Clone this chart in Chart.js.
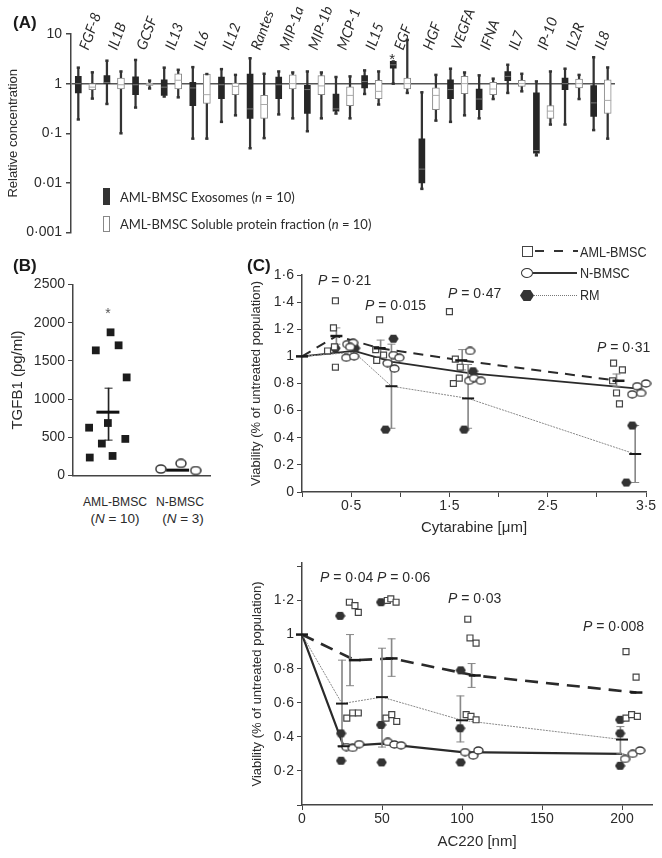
<!DOCTYPE html>
<html>
<head>
<meta charset="utf-8">
<script src="https://cdn.jsdelivr.net/npm/chart.js@4.4.1/dist/chart.umd.min.js"></script>
<style>
  body { margin:0; width:662px; height:858px; position:relative; overflow:hidden; background:#fff;
         font-family:"Liberation Sans", Arial, sans-serif; color:#2b2b2b; }
  canvas { position:absolute; }
  .t { position:absolute; white-space:nowrap; line-height:1; font-size:14px; }
  .c { transform:translateX(-50%); }
  .cn { transform:translateX(-50%) scaleX(0.9); }
  .n { display:inline-block; transform:scaleX(0.9); transform-origin:left center; }
  .panel { font-weight:bold; font-size:17px; color:#1a1a1a; }
  .lg { font-family:Lato, "Open Sans", sans-serif; font-size:13px; }
  .shape { position:absolute; box-sizing:border-box; }
</style>
</head>
<body>
<canvas id="chartA" width="662" height="245" style="left:0;top:0"></canvas>
<canvas id="chartB" width="225" height="220" style="left:0;top:270px"></canvas>
<canvas id="chartC1" width="422" height="277" style="left:240px;top:262px"></canvas>
<canvas id="chartC2" width="422" height="303" style="left:240px;top:550px"></canvas>

<div class="t panel" style="left:13px;top:14px">(A)</div>
<div class="t panel" style="left:13px;top:257px">(B)</div>
<div class="t panel" style="left:247px;top:257px">(C)</div>

<!-- legend A -->
<div class="shape" style="left:103px;top:188px;width:7px;height:17px;background:#333"></div>
<div class="t lg" style="left:120px;top:191px">AML-BMSC Exosomes (<i>n</i> = 10)</div>
<div class="shape" style="left:103px;top:216px;width:7px;height:16px;border:1px solid #888;background:#fff"></div>
<div class="t lg" style="left:120px;top:218px">AML-BMSC Soluble protein fraction (<i>n</i> = 10)</div>

<!-- panel B category labels -->
<div class="t cn" style="left:115px;top:495px;font-size:13.5px">AML-BMSC</div>
<div class="t c" style="left:115px;top:512px;font-size:13.5px">(<i>N</i> = 10)</div>
<div class="t cn" style="left:180px;top:495px;font-size:13.5px">N-BMSC</div>
<div class="t c" style="left:183px;top:512px;font-size:13.5px">(<i>N</i> = 3)</div>
<div class="t c" style="left:108px;top:306px;color:#555">*</div>

<!-- legend C -->
<div class="shape" style="left:522px;top:246px;width:11px;height:11px;border:1.5px solid #444"></div>
<div class="shape" style="left:535px;top:250px;width:43px;height:2px;background:repeating-linear-gradient(90deg,#333 0 9px,transparent 9px 19px)"></div>
<div class="t n" style="left:580px;top:245px">AML-BMSC</div>
<div class="shape" style="left:521px;top:268px;width:12px;height:10px;border:1.5px solid #333;border-radius:50%"></div>
<div class="shape" style="left:533px;top:272px;width:44px;height:1.5px;background:#333"></div>
<div class="t n" style="left:580px;top:266px">N-BMSC</div>
<div class="shape" style="left:520px;top:290px;width:14px;height:11px;background:#333;clip-path:polygon(25% 0,75% 0,100% 50%,75% 100%,25% 100%,0 50%)"></div>
<div class="shape" style="left:534px;top:295px;width:43px;height:1px;background:repeating-linear-gradient(90deg,#777 0 1px,transparent 1px 2px)"></div>
<div class="t n" style="left:580px;top:288px">RM</div>

<!-- P values -->
<div class="t" style="left:318px;top:273px"><i>P</i> = 0·21</div>
<div class="t" style="left:365px;top:298px"><i>P</i> = 0·015</div>
<div class="t" style="left:448px;top:286px"><i>P</i> = 0·47</div>
<div class="t" style="left:597px;top:340px"><i>P</i> = 0·31</div>
<div class="t" style="left:320px;top:570px"><i>P</i> = 0·04</div>
<div class="t" style="left:377px;top:570px"><i>P</i> = 0·06</div>
<div class="t" style="left:448px;top:591px"><i>P</i> = 0·03</div>
<div class="t" style="left:583px;top:619px"><i>P</i> = 0·008</div>

<script>
// ---------- panel A: cytokine box plots (relative concentration) ----------
const cytokines = ['FGF-8','IL1B','GCSF','IL13','IL6','IL12','Rantes','MIP-1a','MIP-1b','MCP-1',
                   'IL15','EGF','HGF','VEGFA','IFNA','IL7','IP-10','IL2R','IL8'];
// [min, q1, median, q3, max]
const exoBoxes = [
  [0.19, 0.65, 1.0, 1.4, 2.1],
  [0.39, 1.0, 1.05, 1.45, 2.9],
  [0.33, 0.6, 0.95, 1.38, 3.0],
  [0.55, 0.58, 0.85, 1.2, 2.1],
  [0.078, 0.36, 0.82, 1.06, 2.15],
  [0.17, 0.5, 0.95, 1.36, 1.96],
  [0.05, 0.2, 0.31, 1.56, 3.25],
  [0.24, 0.5, 0.95, 1.36, 1.76],
  [0.11, 0.25, 0.76, 0.93, 1.76],
  [0.25, 0.28, 0.31, 0.62, 1.36],
  [0.62, 0.82, 1.1, 1.45, 1.85],
  [1.0, 2.06, 2.4, 2.8, 2.8],
  [0.0076, 0.01, 0.019, 0.077, 0.67],
  [0.17, 0.5, 0.76, 1.2, 2.0],
  [0.2, 0.3, 0.49, 0.78, 1.47],
  [0.65, 1.15, 1.4, 1.76, 2.4],
  [0.036, 0.04, 0.045, 0.65, 1.11],
  [0.15, 0.76, 1.0, 1.3, 2.0],
  [0.116, 0.22, 0.41, 0.91, 3.4]
];
const solBoxes = [
  [0.5, 0.76, 0.85, 1.0, 1.69],
  [0.1, 0.78, 0.95, 1.3, 1.76],
  [0.8, 0.92, 0.95, 1.03, 1.15],
  [0.53, 0.78, 1.17, 1.58, 1.9],
  [0.078, 0.4, 0.6, 1.56, 1.56],
  [0.23, 0.6, 0.88, 1.03, 1.5],
  [0.08, 0.2, 0.38, 0.58, 1.58],
  [0.2, 0.78, 1.0, 1.5, 1.68],
  [0.2, 0.6, 0.9, 1.45, 1.68],
  [0.2, 0.36, 0.58, 0.86, 1.4],
  [0.38, 0.5, 0.7, 1.17, 1.76],
  [0.65, 0.78, 1.0, 1.3, 7.6],
  [0.18, 0.3, 0.58, 0.82, 1.5],
  [0.23, 0.63, 1.0, 1.4, 1.68],
  [0.49, 0.6, 0.78, 1.06, 1.26],
  [0.7, 0.88, 1.0, 1.17, 1.58],
  [0.15, 0.2, 0.28, 0.36, 1.76],
  [0.49, 0.82, 1.0, 1.24, 1.5],
  [0.078, 0.25, 0.46, 1.2, 2.12]
];
const yTicksA = [0.001, 0.01, 0.1, 1, 10];

// ---------- panel B: TGFB1 ----------
const tgfCategories = ['AML-BMSC', 'N-BMSC'];
const tgfAml = [[0.65,235],[0.74,1638],[0.96,1874],[1.08,1704],[1.2,1284],[0.64,626],[0.92,687],[0.83,418],[0.99,256],[1.18,479]];
const tgfNorm = [[1.71,85],[2.01,158],[2.23,65]];
const tgfMeans = [[0.92,829],[1.96,70]];
const tgfErr = [[0.93,463,1143]];

// ---------- panel C top: cytarabine ----------
const cytAml = [[0.26,1.04],[0.32,1.21],[0.33,1.07],[0.34,1.41],[0.34,0.92],
  [0.75,1.05],[0.76,0.97],[0.79,1.27],[0.83,1.01],
  [1.5,1.33],[1.56,0.98],[1.61,0.92],[1.6,0.84],[1.54,0.8],
  [3.17,0.95],[3.26,0.9],[3.16,0.82],[3.2,0.73],[3.23,0.65]];
const cytNorm = [[0.45,0.99],[0.46,1.09],[0.52,1.1],[0.53,1.0],[0.49,1.07],
  [0.87,0.95],[0.93,1.01],[0.99,0.99],[0.94,0.91],
  [1.71,1.04],[1.7,0.82],[1.75,0.84],[1.82,0.82],
  [3.36,0.72],[3.41,0.78],[3.45,0.73],[3.5,0.8]];
const cytRm = [[0.34,1.06],[0.54,1.06],[0.85,0.46],[0.93,1.13],[1.65,0.46],[1.74,0.89],[3.36,0.49],[3.3,0.07]];
const cytAmlMean = [[0,1],[0.35,1.15],[0.79,1.06],[1.62,0.97],[3.22,0.82]];
const cytNormMean = [[0,1],[0.53,1.04],[0.92,0.96],[1.72,0.875],[3.45,0.76]];
const cytRmMean = [[0,1],[0.53,1.03],[0.91,0.78],[1.69,0.69],[3.39,0.28]];
const cytAmlErr = [[0.35,1.09,1.21],[0.8,1.0,1.12],[1.63,0.9,1.05],[3.2,0.78,0.87]];
const cytRmErr = [[0.91,0.47,1.09],[1.69,0.47,0.94],[3.39,0.07,0.49]];

// ---------- panel C bottom: AC220 ----------
const acAml = [[29.6,1.19],[33.1,1.17],[35.2,1.13],[28,0.51],[31.7,0.54],[35.2,0.54],
  [53.3,1.2],[55.5,1.21],[58.8,1.19],[52.5,0.51],[56.1,0.53],[59.2,0.49],
  [103.6,1.09],[105,0.98],[108.8,0.95],[102.6,0.53],[105.6,0.52],[108.8,0.5],
  [202.5,0.9],[208.8,0.75],[202.5,0.51],[206,0.53],[209.6,0.52]];
const acNorm = [[27.7,0.34],[31.7,0.335],[35.7,0.357],[53.6,0.37],[57.7,0.355],[61.9,0.35],
  [101.9,0.31],[107,0.29],[110.2,0.32],[201.9,0.27],[206.7,0.3],[211.3,0.32]];
const acRm = [[23.8,1.11],[24.4,0.42],[24.4,0.26],[49.4,1.19],[49.4,0.47],[49.8,0.25],
  [99.2,0.79],[98.8,0.45],[99.2,0.25],[198.8,0.5],[198.8,0.42],[198.8,0.23]];
const acAmlMean = [[0,1],[33,0.85],[56,0.86],[108,0.76],[209,0.66]];
const acNormMean = [[0,1],[26,0.345],[50,0.36],[100,0.31],[200,0.3]];
const acRmMean = [[0,1],[25,0.595],[50,0.633],[100,0.497],[200,0.384]];
const acAmlErr = [[30,0.7,1.0],[56,0.755,0.975],[106,0.69,0.83]];
const acRmErr = [[25,0.34,0.85],[50,0.34,0.92],[99,0.37,0.64],[199,0.3,0.46]];

// ---------- helpers ----------
const ink = '#2b2b2b';
Chart.defaults.font.family = '"Liberation Sans", Arial, sans-serif';
Chart.defaults.color = ink;

const pts = arr => arr.map(p => ({x: p[0], y: p[1]}));
const dot = v => String(Math.round(v * 1000) / 1000).replace('.', '·');

function shape(w, h, draw) {
  const c = document.createElement('canvas');
  c.width = w; c.height = h;
  draw(c.getContext('2d'));
  return c;
}
const ellipse = shape(11, 9, g => {
  g.beginPath(); g.ellipse(5.5, 4.5, 4.5, 3.5, 0, 0, Math.PI * 2);
  g.fillStyle = '#fff'; g.fill(); g.lineWidth = 1.3; g.strokeStyle = '#333'; g.stroke();
});
const hexagon = shape(11, 10, g => {
  g.beginPath();
  for (let k = 0; k < 6; k++) {
    const a = Math.PI / 3 * k;
    g.lineTo(5.5 + 5.2 * Math.cos(a), 5 + 4.6 * Math.sin(a));
  }
  g.closePath(); g.fillStyle = '#333'; g.fill();
});

function errDatasets(err, color) {
  return [
    {type: 'bar', data: err.map(e => ({x: e[0], y: [e[1], e[2]]})), barThickness: 1,
     backgroundColor: color, grouped: false, order: 5},
    {type: 'scatter', data: err.flatMap(e => [{x: e[0], y: e[1]}, {x: e[0], y: e[2]}]),
     pointStyle: 'line', pointRadius: 4, pointBorderWidth: 1, pointBorderColor: color, order: 4}
  ];
}
function lineSet(arr, color, width, dash) {
  return {type: 'scatter', data: pts(arr), showLine: true, borderColor: color, borderWidth: width,
          borderDash: dash, pointRadius: 0, order: 6};
}
function meanSet(arr, r, w) {
  return {type: 'scatter', data: pts(arr), pointStyle: 'line', pointRadius: r,
          pointBorderWidth: w, pointBorderColor: '#1a1a1a', order: 1};
}
const axisLine = {display: true, color: '#444', width: 1.5};
const outTicks = {drawOnChartArea: false, drawTicks: true, tickLength: 5, color: '#444', offset: false};
const base = {responsive: false, animation: false, events: [],
              datasets: {scatter: {clip: false}},
              plugins: {legend: {display: false}, tooltip: {enabled: false}}};

// ---------- chart A ----------
const offA = 0.245;
const cytoLabels = {
  id: 'cytoLabels',
  afterDraw(chart) {
    const {ctx, scales: {x, y}} = chart;
    ctx.save();
    ctx.fillStyle = ink;
    ctx.font = 'italic 14.5px Lato, "Open Sans", sans-serif';
    cytokines.forEach((name, i) => {
      ctx.save();
      ctx.translate(x.getPixelForValue(i - offA) + 10, 51);
      ctx.rotate(-70 * Math.PI / 180);
      ctx.fillText(name, 0, 0);
      ctx.restore();
    });
    const egf = cytokines.indexOf('EGF');
    ctx.font = '15px "Liberation Sans", Arial';
    ctx.textAlign = 'center';
    ctx.fillText('*', x.getPixelForValue(egf - offA) - 1, y.getPixelForValue(exoBoxes[egf][4]) + 3);
    ctx.restore();
  }
};

new Chart(document.getElementById('chartA'), {
  type: 'scatter',
  data: {datasets: [
    {type: 'bar', data: exoBoxes.map((b, i) => ({x: i - offA, y: [b[0], b[4]]})), barThickness: 1.6,
     backgroundColor: '#333', grouped: false, order: 4},
    {type: 'bar', data: solBoxes.map((b, i) => ({x: i + offA, y: [b[0], b[4]]})), barThickness: 1.6,
     backgroundColor: '#333', grouped: false, order: 4},
    {type: 'bar', data: exoBoxes.map((b, i) => ({x: i - offA, y: [b[1], b[3]]})), barThickness: 6,
     backgroundColor: '#262626', grouped: false, order: 3},
    {type: 'bar', data: solBoxes.map((b, i) => ({x: i + offA, y: [b[1], b[3]]})), barThickness: 7,
     backgroundColor: '#fff', borderColor: '#8a8a8a', borderWidth: 1, borderSkipped: false,
     grouped: false, order: 3},
    {type: 'scatter', data: exoBoxes.map((b, i) => ({x: i - offA, y: b[2]})), pointStyle: 'line',
     pointRadius: 3, pointBorderWidth: 1, pointBorderColor: '#777', order: 2},
    {type: 'scatter', data: solBoxes.map((b, i) => ({x: i + offA, y: b[2]})), pointStyle: 'line',
     pointRadius: 3.5, pointBorderWidth: 1, pointBorderColor: '#aaa', order: 2},
    {type: 'scatter', data: exoBoxes.flatMap((b, i) => [{x: i - offA, y: b[0]}, {x: i - offA, y: b[4]}])
       .concat(solBoxes.flatMap((b, i) => [{x: i + offA, y: b[0]}, {x: i + offA, y: b[4]}])),
     pointStyle: 'line', pointRadius: 1.6, pointBorderWidth: 2.5, pointBorderColor: '#333', order: 2}
  ]},
  options: {...base,
    layout: {padding: {top: 34, right: 47, bottom: 11, left: 6}},
    scales: {
      x: {type: 'linear', min: -0.5, max: 18.5, display: false, offset: false},
      y: {type: 'logarithmic', min: 0.001, max: 10,
        afterFit: s => { s.width = 65; },
        afterBuildTicks: s => { s.ticks = yTicksA.map(v => ({value: v})); },
        ticks: {callback: v => dot(v), font: {size: 14}, padding: 4},
        grid: {drawOnChartArea: true, drawTicks: true, tickLength: 5, tickColor: '#444', lineWidth: 1.5,
               color: c => (c.tick && c.tick.value === 1) ? '#555' : 'rgba(0,0,0,0)'},
        border: axisLine,
        title: {display: true, text: 'Relative concentration', font: {size: 13}, padding: 0}}
    }
  },
  plugins: [cytoLabels]
});

// ---------- chart B ----------
new Chart(document.getElementById('chartB'), {
  type: 'scatter',
  data: {datasets: [
    ...errDatasets(tgfErr, '#222'),
    {type: 'scatter', data: pts(tgfMeans), pointStyle: 'line', pointRadius: 11.5, pointBorderWidth: 3,
     pointBorderColor: '#111', order: 3},
    {type: 'scatter', data: pts(tgfAml), pointStyle: 'rect', pointRadius: 5.5,
     pointBackgroundColor: '#1c1c1c', pointBorderColor: '#1c1c1c', pointBorderWidth: 0, order: 2},
    {type: 'scatter', data: pts(tgfNorm), pointStyle: shape(12, 10, g => {
       g.beginPath(); g.ellipse(6, 5, 5, 4, 0, 0, Math.PI * 2);
       g.fillStyle = '#fff'; g.fill(); g.lineWidth = 1.5; g.strokeStyle = '#333'; g.stroke(); }),
     pointRadius: 5, order: 1}
  ]},
  options: {...base,
    layout: {padding: {top: 12, right: 13, bottom: 3, left: 9}},
    scales: {
      x: {type: 'linear', min: 0.4, max: 2.45, offset: false, afterFit: s => { s.height = 0; },
          ticks: {display: false}, grid: {drawOnChartArea: false, drawTicks: false, offset: false}, border: axisLine},
      y: {min: 0, max: 2500, afterFit: s => { s.width = 64; },
          ticks: {stepSize: 500, font: {size: 14}, padding: 3, callback: v => String(v)},
          grid: outTicks, border: axisLine,
          title: {display: true, text: 'TGFB1 (pg/ml)', font: {size: 15}, padding: 0}}
    }
  }
});

// ---------- chart C top ----------
const yFmt = v => (Math.abs(v) < 1e-9 ? '0' : dot(Math.round(v * 10) / 10));
new Chart(document.getElementById('chartC1'), {
  type: 'scatter',
  data: {datasets: [
    lineSet(cytRmMean, '#8a8a8a', 1, [2, 1]),
    lineSet(cytNormMean, '#2a2a2a', 1.8, []),
    lineSet(cytAmlMean, '#2a2a2a', 2, [10, 7]),
    ...errDatasets(cytAmlErr, '#888'),
    ...errDatasets(cytRmErr, '#888'),
    meanSet(cytAmlMean, 6, 2.5),
    meanSet(cytRmMean.slice(2), 6, 2),
    {type: 'scatter', data: pts(cytAml), pointStyle: 'rect', pointRadius: 4.2, pointBackgroundColor: '#fff',
     pointBorderColor: '#444', pointBorderWidth: 1.2, order: 2},
    {type: 'scatter', data: pts(cytNorm), pointStyle: ellipse, pointRadius: 4.5, order: 2},
    {type: 'scatter', data: pts(cytRm), pointStyle: hexagon, pointRadius: 4.5, order: 2}
  ]},
  options: {...base,
    layout: {padding: {top: 13, right: 16, bottom: 2, left: 9}},
    scales: {
      x: {type: 'linear', min: 0, max: 3.5, offset: false, afterFit: s => { s.height = 45; },
          ticks: {stepSize: 0.5, autoSkip: false, maxRotation: 0, font: {size: 14}, padding: 1,
                  callback: v => (Math.abs((v % 1) - 0.5) < 1e-6 ? dot(v) : '')},
          grid: outTicks, border: axisLine,
          title: {display: true, text: 'Cytarabine [μm]', font: {size: 15}, padding: 0}},
      y: {min: 0, max: 1.6, afterFit: s => { s.width = 53; },
          ticks: {stepSize: 0.2, font: {size: 14}, padding: 3, callback: yFmt},
          grid: outTicks, border: axisLine,
          title: {display: true, text: 'Viability (% of untreated population)', font: {size: 13}, padding: 0}}
    }
  }
});

// ---------- chart C bottom ----------
new Chart(document.getElementById('chartC2'), {
  type: 'scatter',
  data: {datasets: [
    lineSet(acRmMean, '#8a8a8a', 1, [2, 1]),
    lineSet(acNormMean, '#2a2a2a', 2.2, []),
    lineSet(acAmlMean, '#2a2a2a', 2.6, [13, 8]),
    ...errDatasets(acAmlErr, '#888'),
    ...errDatasets(acRmErr, '#888'),
    meanSet(acAmlMean, 6, 2.5),
    meanSet(acRmMean.slice(1), 6, 2),
    meanSet(acNormMean.slice(1, 2), 6, 2),
    {type: 'scatter', data: pts(acAml), pointStyle: 'rect', pointRadius: 4.2, pointBackgroundColor: '#fff',
     pointBorderColor: '#444', pointBorderWidth: 1.2, order: 2},
    {type: 'scatter', data: pts(acNorm), pointStyle: ellipse, pointRadius: 4.5, order: 2},
    {type: 'scatter', data: pts(acRm), pointStyle: hexagon, pointRadius: 4.5, order: 2}
  ]},
  options: {...base,
    layout: {padding: {top: 13, right: 10, bottom: 2, left: 10}},
    scales: {
      x: {type: 'linear', min: 0, max: 218.75, offset: false, afterFit: s => { s.height = 46; },
          ticks: {stepSize: 50, includeBounds: false, maxRotation: 0, font: {size: 14}, padding: 1},
          grid: outTicks, border: axisLine,
          title: {display: true, text: 'AC220 [nm]', font: {size: 15}, padding: 0}},
      y: {min: 0, max: 1.42, afterFit: s => { s.width = 52; },
          ticks: {stepSize: 0.2, includeBounds: false, font: {size: 14}, padding: 3,
                  callback: v => (v < 0.1 || v > 1.3 ? '' : yFmt(v))},
          grid: outTicks, border: axisLine,
          title: {display: true, text: 'Viability (% of untreated population)', font: {size: 13}, padding: 0}}
    }
  }
});
</script>
</body>
</html>
